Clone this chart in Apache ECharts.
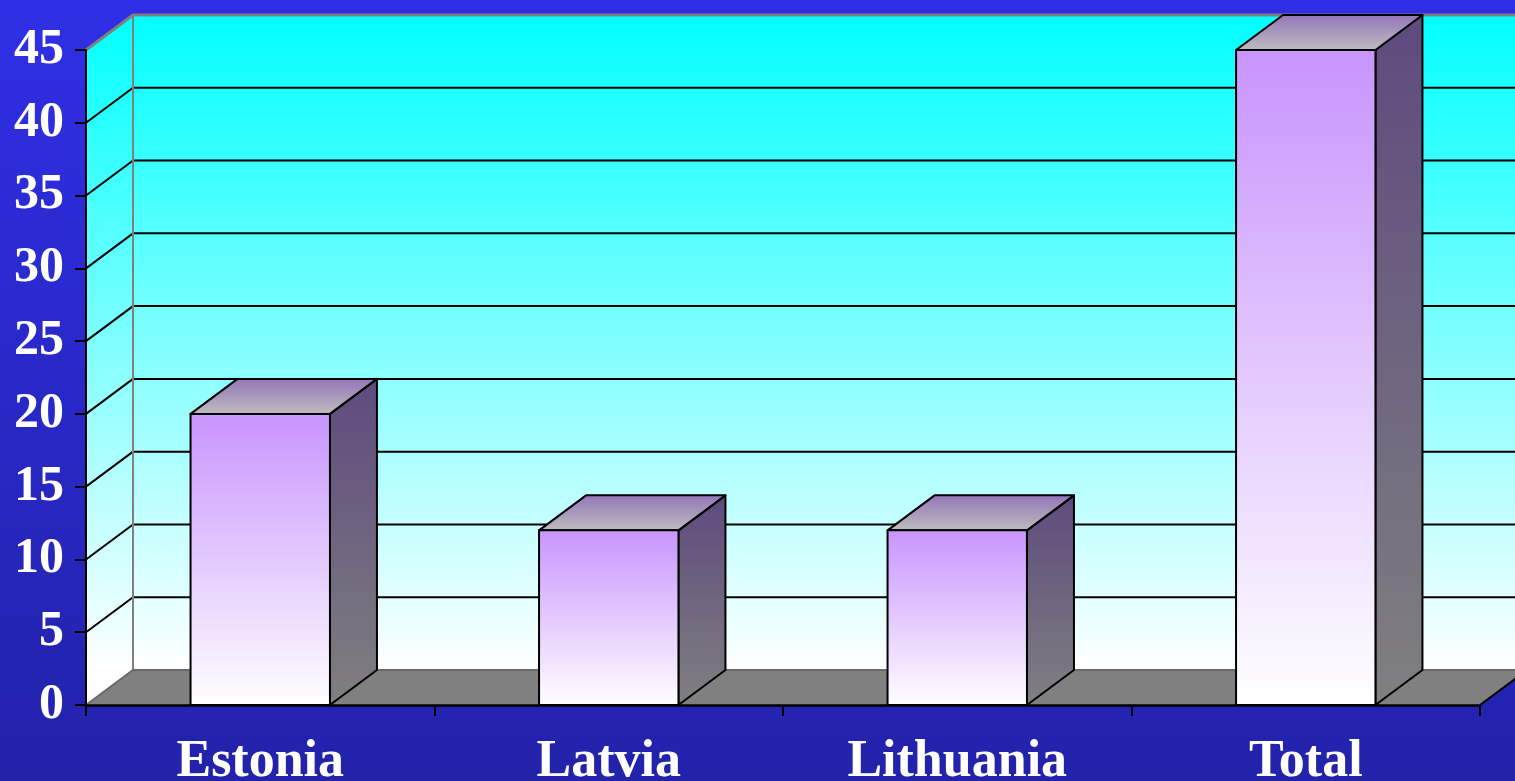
<!DOCTYPE html>
<html>
<head>
<meta charset="utf-8">
<script src="https://cdn.jsdelivr.net/npm/echarts@6/dist/echarts.min.js"></script>
<style>
  html, body { margin: 0; padding: 0; width: 1515px; height: 781px; overflow: hidden; background: #2828c8; }
  #chart { width: 1515px; height: 781px; }
</style>
</head>
<body>
<div id="chart"></div>
<script>
// Chart data
const categories = ['Estonia', 'Latvia', 'Lithuania', 'Total'];
const values = [20, 12, 12, 45];
const yTicks = [0, 5, 10, 15, 20, 25, 30, 35, 40, 45];

const Y_MIN = yTicks[0];
const Y_MAX = yTicks[yTicks.length - 1];
const Y_STEP = yTicks[1] - yTicks[0];

// Depth of the pseudo-3D box (screen offset from front plane to back plane)
const DX = 47, DY = -35;

const G = echarts.graphic;
const wallFill = (y0, y1) => new G.LinearGradient(0, y0, 0, y1, [
  { offset: 0, color: '#00ffff' },
  { offset: 1, color: '#ffffff' }
], true);

// Back wall, side wall, floor and gridlines
function renderWalls(params, api) {
  const cs = params.coordSys;
  const x0 = cs.x, x1 = cs.x + cs.width;
  const yb = api.coord([0, Y_MIN])[1];
  const yt = api.coord([0, Y_MAX])[1];
  const W = api.getWidth();
  const fill = wallFill(yt + DY, yb + DY);
  const kids = [];

  kids.push({ type: 'rect', shape: { x: x0 + DX, y: yt + DY, width: W - x0 - DX + 20, height: yb - yt }, style: { fill: fill } });
  kids.push({ type: 'polygon', shape: { points: [[x0, yb], [x0, yt], [x0 + DX, yt + DY], [x0 + DX, yb + DY]] }, style: { fill: fill } });
  kids.push({ type: 'polygon', shape: { points: [[x0, yb], [x1, yb], [x1 + DX, yb + DY], [x0 + DX, yb + DY]] }, style: { fill: '#808080' } });

  yTicks.forEach(v => {
    if (v === Y_MIN || v === Y_MAX) return;
    const y = api.coord([0, v])[1];
    kids.push({ type: 'line', shape: { x1: x0, y1: y, x2: x0 + DX, y2: y + DY }, style: { stroke: '#000', lineWidth: 2 } });
    kids.push({ type: 'line', shape: { x1: x0 + DX, y1: y + DY, x2: W + 10, y2: y + DY }, style: { stroke: '#000', lineWidth: 2 } });
  });

  // outer edges of the walls and floor
  kids.push({ type: 'polyline', shape: { points: [[x0, yt], [x0 + DX, yt + DY], [W + 10, yt + DY]] }, style: { stroke: '#808080', lineWidth: 3, fill: null } });
  kids.push({ type: 'line', shape: { x1: x0 + DX, y1: yt + DY, x2: x0 + DX, y2: yb + DY }, style: { stroke: '#808080', lineWidth: 2 } });
  kids.push({ type: 'polyline', shape: { points: [[x0, yb], [x0 + DX, yb + DY], [W + 10, yb + DY]] }, style: { stroke: '#6a6a6a', lineWidth: 2, fill: null } });
  kids.push({ type: 'line', shape: { x1: x1, y1: yb, x2: x1 + DX, y2: yb + DY }, style: { stroke: '#000', lineWidth: 2 } });

  return { type: 'group', children: kids };
}

// One 3D box per category
function renderBar(params, api) {
  const idx = api.value(0);
  const top = api.coord([idx, api.value(1)]);
  const base = api.coord([idx, Y_MIN]);
  const bw = api.size([1, 0])[0] * 0.4;
  const xl = top[0] - bw / 2, xr = top[0] + bw / 2;
  const yt = top[1], yb = base[1];
  const edge = { stroke: '#000', lineWidth: 2, lineJoin: 'round' };

  const front = new G.LinearGradient(0, 0, 0, 1, [
    { offset: 0, color: '#c894fd' },
    { offset: 1, color: '#ffffff' }
  ]);
  const side = new G.LinearGradient(0, 0, 0, 1, [
    { offset: 0, color: '#5e4a7e' },
    { offset: 1, color: '#808080' }
  ]);
  const lid = new G.LinearGradient(0, 0, 0, 1, [
    { offset: 0, color: '#9474ba' },
    { offset: 1, color: '#bebebe' }
  ]);

  return {
    type: 'group',
    children: [
      { type: 'polygon', shape: { points: [[xr, yt], [xr + DX, yt + DY], [xr + DX, yb + DY], [xr, yb]] }, style: Object.assign({ fill: side }, edge) },
      { type: 'polygon', shape: { points: [[xl, yt], [xl + DX, yt + DY], [xr + DX, yt + DY], [xr, yt]] }, style: Object.assign({ fill: lid }, edge) },
      { type: 'rect', shape: { x: xl, y: yt, width: bw, height: yb - yt }, style: Object.assign({ fill: front }, edge) }
    ]
  };
}

const chart = echarts.init(document.getElementById('chart'), null, { renderer: 'canvas', width: 1515, height: 781 });

chart.setOption({
  backgroundColor: new G.LinearGradient(0, 0, 0, 1, [
    { offset: 0, color: '#2f2fe6' },
    { offset: 1, color: '#2222aa' }
  ]),
  animation: false,
  grid: { left: 86, width: 1394, top: 50, height: 655, containLabel: false, outerBoundsMode: 'none' },
  xAxis: {
    type: 'category',
    data: categories,
    z: 10,
    axisLine: { show: true, lineStyle: { color: '#000', width: 2.5 } },
    axisTick: { show: true, length: 11, lineStyle: { color: '#000', width: 2 } },
    axisLabel: {
      color: '#ffffff',
      fontFamily: 'Liberation Serif',
      fontWeight: 'bold',
      fontSize: 52,
      margin: 32,
      verticalAlign: 'top'
    },
    splitLine: { show: false }
  },
  yAxis: {
    type: 'value',
    min: Y_MIN,
    max: Y_MAX,
    interval: Y_STEP,
    z: 10,
    axisLine: { show: true, lineStyle: { color: '#000', width: 2 } },
    axisTick: { show: true, length: 11, lineStyle: { color: '#000', width: 2 } },
    axisLabel: {
      color: '#ffffff',
      fontFamily: 'Liberation Serif',
      fontWeight: 'bold',
      fontSize: 50,
      margin: 22
    },
    splitLine: { show: false }
  },
  series: [
    {
      type: 'custom',
      z: 0,
      silent: true,
      renderItem: renderWalls,
      data: [[0, 0]]
    },
    {
      type: 'custom',
      z: 3,
      renderItem: renderBar,
      encode: { x: 0, y: 1 },
      data: values.map((v, i) => [i, v])
    }
  ]
});
</script>
</body>
</html>
